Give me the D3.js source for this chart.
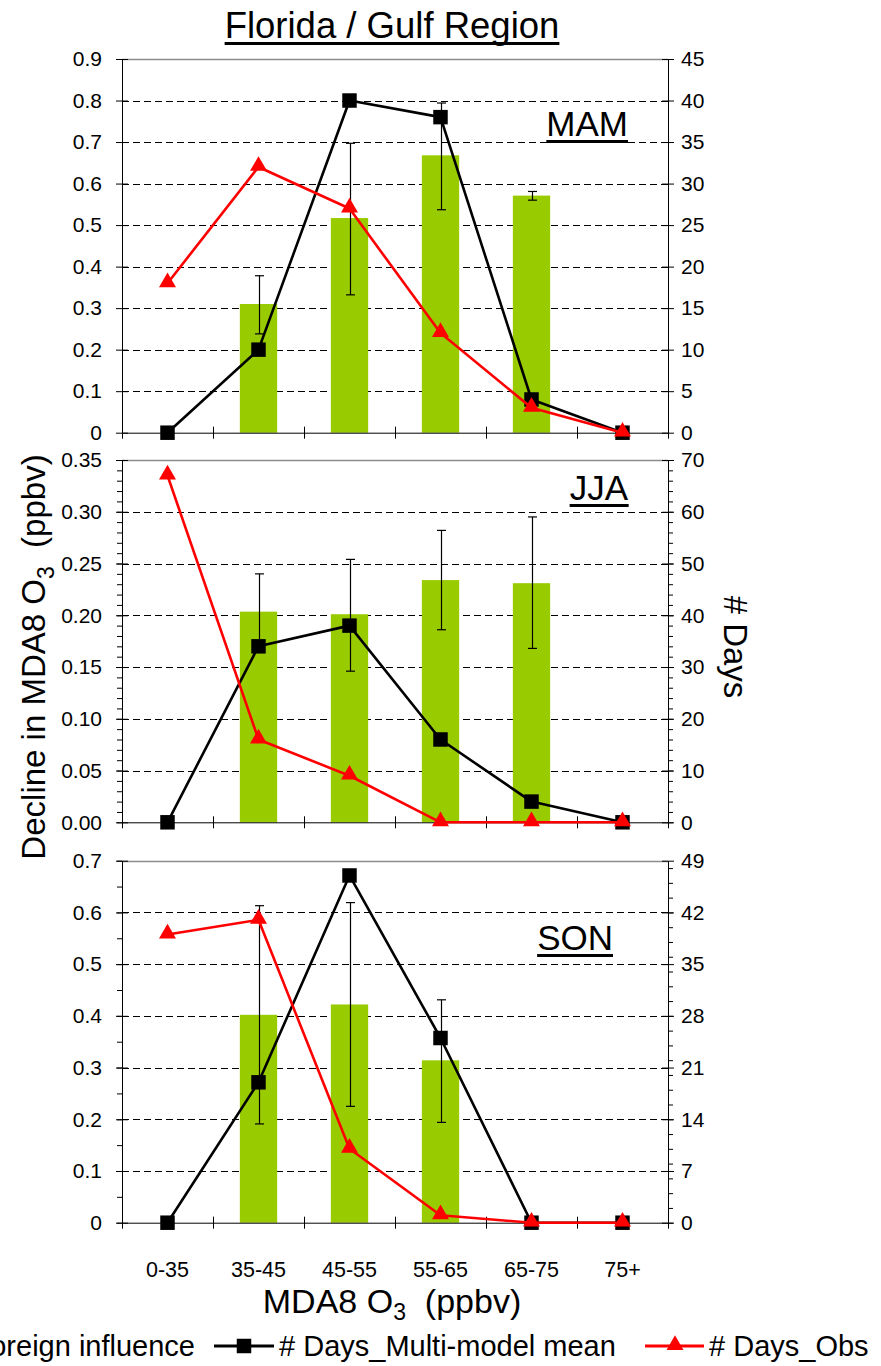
<!DOCTYPE html>
<html>
<head>
<meta charset="utf-8">
<script src="https://cdn.jsdelivr.net/npm/d3@7"></script>
<style>
  html, body { margin: 0; padding: 0; background: #fff; }
  svg { display: block; }
</style>
</head>
<body>
<svg id="chart" width="881" height="1366"></svg>
<script>
// ---- data -------------------------------------------------------------
const categories = ["0-35", "35-45", "45-55", "55-65", "65-75", "75+"];
const seasons = ["MAM", "JJA", "SON"];

// Decline in MDA8 O3 from foreign influence (ppbv), with error-bar ends
const mamForeign = [null, 0.31, 0.517, 0.668, 0.571, null];
const mamErrLow  = [null, 0.238, 0.332, 0.537, 0.560, null];
const mamErrHigh = [null, 0.378, 0.697, 0.794, 0.581, null];
const jjaForeign = [null, 0.2035, 0.201, 0.234, 0.231, null];
const jjaErrLow  = [null, 0.168, 0.146, 0.186, 0.168, null];
const jjaErrHigh = [null, 0.240, 0.254, 0.282, 0.295, null];
const sonForeign = [null, 0.402, 0.422, 0.314, null, null];
const sonErrLow  = [null, 0.191, 0.225, 0.194, null, null];
const sonErrHigh = [null, 0.613, 0.619, 0.431, null, null];

// Number of days in each MDA8 O3 bin
const mamModelDays = [0, 10, 40, 38, 4, 0];
const mamObsDays   = [18, 32, 27, 12, 3, 0];
const jjaModelDays = [0, 34, 38, 16, 4, 0];
const jjaObsDays   = [67, 16, 9, 0, 0, 0];
const sonModelDays = [0, 19, 47, 25, 0, 0];
const sonObsDays   = [39, 41, 10, 1, 0, 0];

// Tick labels
const mamLeftTicks  = ["0", "0.1", "0.2", "0.3", "0.4", "0.5", "0.6", "0.7", "0.8", "0.9"];
const jjaLeftTicks  = ["0.00", "0.05", "0.10", "0.15", "0.20", "0.25", "0.30", "0.35"];
const sonLeftTicks  = ["0", "0.1", "0.2", "0.3", "0.4", "0.5", "0.6", "0.7"];
const mamRightTicks = ["0", "5", "10", "15", "20", "25", "30", "35", "40", "45"];
const jjaRightTicks = ["0", "10", "20", "30", "40", "50", "60", "70"];
const sonRightTicks = ["0", "7", "14", "21", "28", "35", "42", "49"];

const legendLabels = ["Foreign influence", "# Days_Multi-model mean", "# Days_Obs"];

// ---- layout -----------------------------------------------------------
const FONT = '"Liberation Sans", Arial, Helvetica, sans-serif';
const GREEN = "#99CC00";
const RED = "#FF0000";
const X0 = 122, X1 = 668;

const panels = [
  { season: seasons[0], foreign: mamForeign, low: mamErrLow, high: mamErrHigh,
    model: mamModelDays, obs: mamObsDays, leftTicks: mamLeftTicks, rightTicks: mamRightTicks,
    leftMinor: null, rightMinor: null, top: 59, bottom: 432.7,
    labelRight: 628, labelBase: 136 },
  { season: seasons[1], foreign: jjaForeign, low: jjaErrLow, high: jjaErrHigh,
    model: jjaModelDays, obs: jjaObsDays, leftTicks: jjaLeftTicks, rightTicks: jjaRightTicks,
    leftMinor: 0.01, rightMinor: 2, top: 460, bottom: 822.3,
    labelRight: 628, labelBase: 500 },
  { season: seasons[2], foreign: sonForeign, low: sonErrLow, high: sonErrHigh,
    model: sonModelDays, obs: sonObsDays, leftTicks: sonLeftTicks, rightTicks: sonRightTicks,
    leftMinor: 0.05, rightMinor: 2, top: 860.7, bottom: 1222.7,
    labelRight: 613, labelBase: 950 }
];

const svg = d3.select("#chart").attr("font-family", FONT);

const x = d3.scaleBand().domain(categories).range([X0, X1]).paddingInner(0).paddingOuter(0);
const bw = x.bandwidth();
const barW = bw * 0.41;
const cx = c => x(c) + bw / 2;
const xEdge = d3.scaleLinear().domain([0, categories.length]).range([X0, X1]);

const squareSym = d3.symbol().type(d3.symbolSquare).size(210);
const triSym = d3.symbol().type(d3.symbolTriangle).size(125);

function styleTicks(g, size) {
  g.selectAll("text").attr("font-size", size).attr("font-family", FONT).attr("fill", "#000");
  g.selectAll(".tick line").attr("stroke", "#000");
  g.select(".domain").attr("stroke", "#000");
}

panels.forEach((p, pi) => {
  const g = svg.append("g").attr("class", "panel-" + p.season);
  const leftVals = p.leftTicks.map(Number);
  const rightVals = p.rightTicks.map(Number);
  const yL = d3.scaleLinear().domain([0, d3.max(leftVals)]).range([p.bottom, p.top]);
  const yR = d3.scaleLinear().domain([0, d3.max(rightVals)]).range([p.bottom, p.top]);

  // dashed horizontal gridlines
  g.append("g").selectAll("line").data(leftVals.slice(1, -1)).join("line")
    .attr("x1", X0).attr("x2", X1)
    .attr("y1", d => Math.round(yL(d)) + 0.5).attr("y2", d => Math.round(yL(d)) + 0.5)
    .attr("stroke", "#000").attr("stroke-width", 1).attr("stroke-dasharray", "7,4");

  // plot-area top border
  g.append("line").attr("x1", X0).attr("x2", X1)
    .attr("y1", Math.round(p.top) + 0.5).attr("y2", Math.round(p.top) + 0.5)
    .attr("stroke", "#8c8c8c").attr("stroke-width", 1.5);

  // bars
  const rows = categories.map((c, i) => ({
    c, v: p.foreign[i], lo: p.low[i], hi: p.high[i], m: p.model[i], o: p.obs[i]
  }));
  g.append("g").selectAll("rect").data(rows.filter(d => d.v != null)).join("rect")
    .attr("x", d => cx(d.c) - barW / 2).attr("width", barW)
    .attr("y", d => yL(d.v)).attr("height", d => yL(0) - yL(d.v))
    .attr("fill", GREEN);

  // error bars
  const eb = g.append("g").attr("stroke", "#000").attr("stroke-width", 1.2);
  rows.filter(d => d.lo != null).forEach(d => {
    const xc = Math.round(cx(d.c)) + 0.5;
    eb.append("line").attr("x1", xc).attr("x2", xc).attr("y1", yL(d.lo)).attr("y2", yL(d.hi));
    [d.lo, d.hi].forEach(v => {
      eb.append("line").attr("x1", xc - 4.5).attr("x2", xc + 4.5).attr("y1", yL(v)).attr("y2", yL(v));
    });
  });

  // axes: left
  const axL = d3.axisLeft(yL).tickValues(leftVals).tickFormat((d, i) => p.leftTicks[i])
    .tickSizeInner(6).tickSizeOuter(0).tickPadding(14);
  const gL = g.append("g").attr("transform", `translate(${X0},0)`).call(axL);
  gL.selectAll(".tick line").attr("x1", 6);
  styleTicks(gL, 21);
  if (p.leftMinor) {
    const minor = d3.range(0, d3.max(leftVals) + 1e-9, p.leftMinor);
    g.append("g").attr("transform", `translate(${X0},0)`)
      .call(d3.axisLeft(yL).tickValues(minor).tickFormat("").tickSizeInner(5).tickSizeOuter(0))
      .call(a => { a.select(".domain").remove(); a.selectAll("line").attr("stroke", "#000"); });
  }

  // axes: right
  const axR = d3.axisRight(yR).tickValues(rightVals).tickFormat((d, i) => p.rightTicks[i])
    .tickSizeInner(6).tickSizeOuter(0).tickPadding(7);
  const gR = g.append("g").attr("transform", `translate(${X1},0)`).call(axR);
  gR.selectAll(".tick line").attr("x1", -6);
  styleTicks(gR, 21);
  if (p.rightMinor) {
    const minor = d3.range(0, d3.max(rightVals) + 1e-9, p.rightMinor);
    g.append("g").attr("transform", `translate(${X1},0)`)
      .call(d3.axisRight(yR).tickValues(minor).tickFormat("").tickSizeInner(5).tickSizeOuter(0))
      .call(a => { a.select(".domain").remove(); a.selectAll("line").attr("stroke", "#000"); });
  }

  // category axis along zero
  const gX = g.append("g").attr("transform", `translate(0,${p.bottom})`)
    .call(d3.axisBottom(xEdge).tickValues(d3.range(0, categories.length + 1))
      .tickFormat("").tickSizeInner(6).tickSizeOuter(0));
  gX.selectAll(".tick line").attr("y1", -6);
  styleTicks(gX, 21);

  if (pi === panels.length - 1) {
    const gC = svg.append("g").attr("transform", `translate(0,${p.bottom})`)
      .call(d3.axisBottom(x).tickSize(0).tickPadding(39));
    gC.select(".domain").remove();
    styleTicks(gC, 21.5);
  }

  // # days, multi-model mean
  const line = d3.line().x(d => cx(d.c)).y(d => d.y);
  g.append("path")
    .datum(rows.map(d => ({ c: d.c, y: yR(d.m) })))
    .attr("d", line).attr("fill", "none").attr("stroke", "#000").attr("stroke-width", 2.6)
    .attr("stroke-linejoin", "round");
  g.append("g").selectAll("path").data(rows).join("path")
    .attr("transform", d => `translate(${cx(d.c)},${yR(d.m)})`)
    .attr("d", squareSym()).attr("fill", "#000");

  // # days, observed
  g.append("path")
    .datum(rows.map(d => ({ c: d.c, y: yR(d.o) })))
    .attr("d", line).attr("fill", "none").attr("stroke", RED).attr("stroke-width", 2.6)
    .attr("stroke-linejoin", "round");
  g.append("g").selectAll("path").data(rows).join("path")
    .attr("transform", d => `translate(${cx(d.c)},${yR(d.o) - 1})`)
    .attr("d", triSym()).attr("fill", RED);

  // season label, underlined
  const t = g.append("text").attr("x", p.labelRight).attr("y", p.labelBase)
    .attr("text-anchor", "end").attr("font-size", 35).text(p.season);
  const bb = t.node().getBBox();
  g.append("rect").attr("x", bb.x).attr("width", bb.width)
    .attr("y", p.labelBase + 4).attr("height", 3).attr("fill", "#000");
});

// ---- titles -----------------------------------------------------------
const title = svg.append("text").attr("x", 392).attr("y", 38).attr("text-anchor", "middle")
  .attr("font-size", 36.5).text("Florida / Gulf Region");
const tb = title.node().getBBox();
svg.append("rect").attr("x", tb.x).attr("width", tb.width).attr("y", 42).attr("height", 3).attr("fill", "#000");

// left axis title (with subscript)
const yT = svg.append("text").attr("transform", "translate(45,657) rotate(-90)")
  .attr("text-anchor", "middle").attr("font-size", 33);
yT.append("tspan").text("Decline in MDA8 O");
yT.append("tspan").attr("dy", 9).attr("font-size", 23).text("3");
yT.append("tspan").attr("dy", -9).text("\u00a0\u00a0(ppbv)");

// right axis title
svg.append("text").attr("transform", "translate(724,647) rotate(90)")
  .attr("text-anchor", "middle").attr("font-size", 33).text("# Days");

// bottom axis title
const xT = svg.append("text").attr("x", 392).attr("y", 1313).attr("text-anchor", "middle")
  .attr("font-size", 34);
xT.append("tspan").text("MDA8 O");
xT.append("tspan").attr("dy", 7).attr("font-size", 23).text("3");
xT.append("tspan").attr("dy", -7).text("\u00a0\u00a0(ppbv)");

// ---- legend -----------------------------------------------------------
const lg = svg.append("g").attr("font-size", 29);
const LY = 1356, MY = 1346;
lg.append("text").attr("x", 195).attr("y", LY).attr("text-anchor", "end").text(legendLabels[0]);
lg.append("rect").attr("x", -60).attr("y", MY - 10).attr("width", 20).attr("height", 20).attr("fill", GREEN);

lg.append("line").attr("x1", 214).attr("x2", 274).attr("y1", MY).attr("y2", MY)
  .attr("stroke", "#000").attr("stroke-width", 3);
lg.append("path").attr("transform", `translate(244,${MY})`).attr("d", squareSym()).attr("fill", "#000");
lg.append("text").attr("x", 279).attr("y", LY).text(legendLabels[1]);

lg.append("line").attr("x1", 645).attr("x2", 704).attr("y1", MY).attr("y2", MY)
  .attr("stroke", RED).attr("stroke-width", 3);
lg.append("path").attr("transform", `translate(675,${MY - 1})`).attr("d", triSym()).attr("fill", RED);
lg.append("text").attr("x", 709).attr("y", LY).text(legendLabels[2]);
</script>
</body>
</html>
